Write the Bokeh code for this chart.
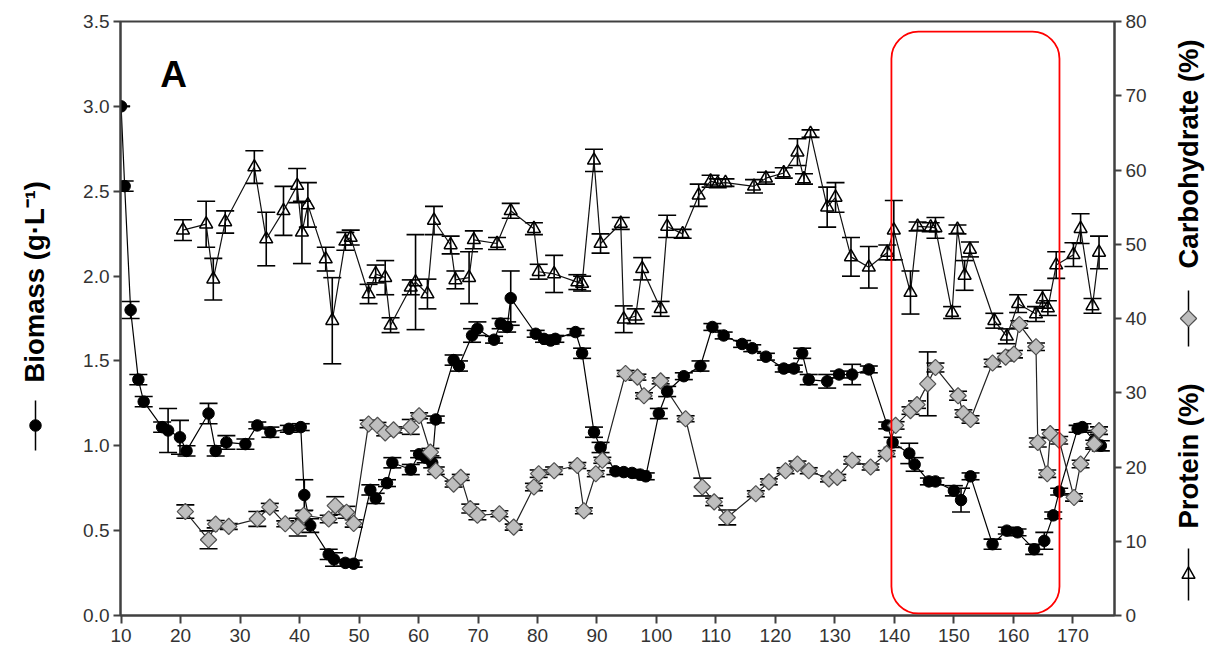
import math
from bokeh.plotting import figure
from bokeh.layouts import row
from bokeh.models import (Range1d, LinearAxis, FixedTicker, PrintfTickFormatter,
                          ColumnDataSource, Whisker, TeeHead, BoxAnnotation, Label)
from bokeh.core.properties import value
from bokeh.embed import file_html
from bokeh.resources import INLINE

# ---- data: culture day vs. biomass (g/L), carbohydrate (%) and protein (%) ----
biomass_day = [10.0, 10.6, 11.6, 12.9, 13.8, 16.9, 17.9, 19.9, 21.0, 24.7, 25.9, 27.7,
               30.9, 32.9, 35.1, 38.2, 40.2, 40.8, 41.8, 44.9, 45.8, 47.7, 49.1, 51.9,
               52.8, 54.7, 55.6, 58.7, 60.1, 61.2, 62.3, 62.9, 65.9, 66.8, 69.0, 69.9,
               72.7, 73.8, 74.9, 75.5, 79.7, 81.1, 82.2, 83.0, 86.4, 87.5, 89.5, 90.6,
               93.1, 94.5, 95.9, 97.3, 98.2, 100.4, 101.8, 104.6, 107.4, 109.4, 111.3,
               114.4, 116.1, 118.4, 121.4, 123.1, 124.5, 125.6, 128.7, 130.7, 132.9,
               135.7, 138.8, 139.7, 142.5, 143.4, 145.8, 146.9, 150.0, 151.2, 152.8,
               156.5, 158.9, 160.7, 163.5, 165.2, 166.7, 167.7, 170.8, 171.6, 173.6, 174.7]
biomass = [3.00, 2.53, 1.80, 1.39, 1.26, 1.11, 1.09, 1.05, 0.97, 1.19, 0.97, 1.02,
           1.01, 1.12, 1.08, 1.10, 1.11, 0.71, 0.53, 0.36, 0.33, 0.31, 0.305, 0.74,
           0.69, 0.78, 0.90, 0.86, 0.95, 0.93, 0.90, 1.155, 1.505, 1.47, 1.65, 1.69,
           1.625, 1.72, 1.70, 1.87, 1.66, 1.63, 1.62, 1.63, 1.67, 1.545, 1.08, 0.99,
           0.85, 0.845, 0.84, 0.83, 0.82, 1.19, 1.32, 1.41, 1.47, 1.70, 1.65,
           1.60, 1.575, 1.525, 1.455, 1.455, 1.545, 1.39, 1.38, 1.42, 1.42,
           1.45, 1.12, 1.02, 0.955, 0.89, 0.79, 0.79, 0.735, 0.68, 0.82,
           0.42, 0.50, 0.49, 0.39, 0.44, 0.59, 0.73, 1.10, 1.11, 1.03, 1.00]
biomass_sd = [0.0, 0.03, 0.05, 0.03, 0.03, 0.03, 0.13, 0.10, 0.03, 0.06, 0.03, 0.04,
              0.03, 0.02, 0.03, 0.02, 0.02, 0.09, 0.04, 0.03, 0.04, 0.02, 0.02, 0.03,
              0.03, 0.02, 0.03, 0.03, 0.02, 0.03, 0.03, 0.02, 0.03, 0.03, 0.04, 0.04,
              0.02, 0.03, 0.03, 0.16, 0.02, 0.02, 0.02, 0.02, 0.02, 0.03, 0.03, 0.03,
              0.02, 0.02, 0.02, 0.02, 0.02, 0.03, 0.03, 0.02, 0.03, 0.02, 0.02,
              0.02, 0.02, 0.02, 0.02, 0.02, 0.03, 0.03, 0.04, 0.02, 0.06,
              0.02, 0.02, 0.03, 0.06, 0.04, 0.02, 0.02, 0.03, 0.07, 0.02,
              0.03, 0.02, 0.02, 0.03, 0.05, 0.02, 0.02, 0.02, 0.02, 0.05, 0.03]

carb_day = [20.8, 24.7, 25.9, 28.1, 32.9, 35.0, 37.6, 39.7, 40.7, 44.9, 46.0, 47.9,
            49.1, 51.6, 53.1, 54.4, 55.8, 58.7, 60.1, 62.0, 62.9, 65.9, 67.1, 68.7,
            69.9, 73.6, 76.0, 79.4, 80.2, 82.8, 86.7, 87.8, 89.8, 90.9, 94.8, 96.8,
            97.9, 100.7, 104.9, 107.7, 109.7, 111.9, 116.7, 118.9, 121.7, 123.7, 125.6,
            129.0, 130.4, 132.9, 136.0, 138.7, 140.2, 142.7, 143.8, 145.6, 146.9, 150.7,
            151.6, 152.8, 156.5, 158.7, 160.1, 161.0, 163.8, 164.1, 165.7, 166.2, 167.7,
            170.2, 171.3, 173.6, 174.4]
carb = [14.0, 10.2, 12.3, 12.0, 13.0, 14.6, 12.35, 11.9, 13.5, 13.0, 14.8, 13.9,
        12.4, 25.8, 25.6, 24.6, 25.0, 25.4, 26.9, 22.0, 19.5, 17.7, 18.6, 14.4,
        13.5, 13.7, 11.9, 17.3, 19.1, 19.5, 20.2, 14.1, 19.1, 20.9, 32.6, 32.1,
        29.6, 31.6, 26.5, 17.3, 15.3, 13.2, 16.4, 18.0, 19.5, 20.4, 19.5,
        18.4, 18.6, 20.9, 20.0, 21.8, 25.6, 27.6, 28.4, 31.2, 33.4, 29.6,
        27.2, 26.4, 34.0, 34.8, 35.2, 39.2, 36.2, 23.3, 19.1, 24.5, 23.6,
        15.9, 20.4, 23.1, 24.9]
carb_sd = [0.9, 1.2, 0.5, 0.4, 1.0, 0.5, 0.4, 1.2, 0.6, 0.5, 1.2, 0.8,
           0.5, 0.5, 0.4, 0.4, 0.4, 1.0, 0.4, 0.5, 0.5, 0.4, 0.4, 0.6,
           0.6, 0.4, 0.4, 0.5, 0.5, 0.5, 0.4, 0.4, 0.4, 0.4, 0.4, 0.4,
           0.4, 0.4, 0.4, 1.2, 0.5, 1.0, 0.4, 0.4, 0.4, 0.4, 0.4,
           0.4, 0.4, 0.5, 0.4, 0.4, 0.5, 0.5, 0.5, 4.3, 0.6, 0.6,
           0.5, 0.5, 0.5, 0.5, 0.5, 0.5, 0.5, 0.6, 0.5, 0.5, 0.5,
           0.5, 0.5, 0.5, 0.5]

protein_day = [20.4, 24.3, 25.5, 27.5, 32.4, 34.4, 37.3, 39.6, 40.4, 41.4, 44.4, 45.5,
               47.7, 48.6, 51.6, 52.8, 54.4, 55.3, 58.7, 59.5, 61.5, 62.6, 65.4, 66.2,
               68.5, 69.3, 73.2, 75.5, 79.4, 80.2, 82.8, 86.7, 87.5, 89.5, 90.6, 94.0,
               94.5, 96.5, 97.6, 100.7, 101.8, 104.4, 107.1, 109.1, 110.3, 111.6, 116.4,
               118.4, 121.4, 123.7, 124.8, 125.9, 128.7, 130.1, 132.7, 135.7, 138.8,
               139.9, 142.7, 143.9, 146.1, 146.9, 149.7, 150.6, 151.8, 152.7, 156.8,
               158.9, 160.8, 163.8, 164.9, 165.8, 167.2, 170.1, 171.3, 173.3, 174.4]
protein = [51.9, 52.7, 45.3, 53.0, 60.4, 50.7, 54.5, 57.9, 51.6, 55.3, 48.0, 39.7,
           50.4, 50.9, 43.3, 46.0, 45.5, 39.1, 44.2, 44.9, 43.3, 53.2, 49.9, 45.2,
           45.5, 50.6, 50.1, 54.5, 52.1, 46.3, 46.0, 44.9, 44.7, 61.3, 50.1, 52.8,
           39.9, 40.3, 46.7, 41.3, 52.4, 51.4, 56.6, 58.5, 58.2, 58.3, 57.8,
           58.9, 59.6, 62.4, 58.8, 64.9, 55.0, 56.3, 48.3, 46.9, 48.9,
           51.9, 43.5, 52.4, 52.3, 52.2, 40.8, 52.0, 45.8, 49.3, 39.7,
           37.6, 42.0, 40.6, 42.6, 41.4, 47.2, 48.6, 52.1, 41.7, 48.9]
protein_sd = [1.4, 3.1, 2.8, 1.5, 2.2, 3.6, 3.3, 2.3, 4.2, 3.0, 1.6, 5.8,
              1.2, 1.0, 1.3, 1.2, 2.3, 1.0, 1.0, 6.4, 2.0, 1.9, 1.2, 1.2,
              3.5, 1.2, 0.8, 1.0, 0.8, 1.0, 2.5, 1.0, 1.0, 1.5, 1.3, 0.8,
              1.8, 1.0, 1.5, 1.0, 1.5, 0.6, 1.5, 0.8, 0.6, 0.5, 0.9,
              0.8, 0.7, 1.8, 0.7, 0.5, 2.7, 2.0, 2.6, 2.8, 1.0,
              4.0, 2.9, 0.6, 0.6, 1.4, 0.8, 0.6, 2.0, 1.0, 1.0,
              1.0, 1.2, 1.0, 1.2, 1.0, 1.8, 1.6, 2.0, 1.0, 2.2]

day_ticks = list(range(10, 171, 10))
biomass_ticks = [0.0, 0.5, 1.0, 1.5, 2.0, 2.5, 3.0, 3.5]
percent_ticks = list(range(0, 81, 10))

FONT = "Liberation Sans"
AXIS_GREY = "#404040"
TICK_TEXT = "#333333"
H = 661
FRAME_TOP, FRAME_BOTTOM = 21, 615          # canvas rows of the plotting frame
LEFT_W, RIGHT_W = 58, 59
MAIN_W = 1219 - LEFT_W - RIGHT_W


def sources(x, y, sd):
    return ColumnDataSource(dict(x=x, y=y,
                                 lo=[a - b for a, b in zip(y, sd)],
                                 hi=[a + b for a, b in zip(y, sd)]))


p = figure(width=MAIN_W, height=H, x_range=Range1d(9.9, 177.0), y_range=Range1d(0.0, 3.5),
           output_backend="svg", toolbar_location=None,
           min_border_left=120 - LEFT_W, min_border_right=1219 - RIGHT_W - 1114,
           min_border_top=FRAME_TOP, min_border_bottom=H - FRAME_BOTTOM)
p.extra_y_ranges = {"pct": Range1d(0, 80)}
p.grid.visible = False
p.background_fill_color = "white"
p.border_fill_color = "white"
p.outline_line_color = AXIS_GREY
p.outline_line_width = 2

p.add_layout(LinearAxis(y_range_name="pct"), "right")

for ax in p.axis:
    ax.axis_line_color = AXIS_GREY
    ax.axis_line_width = 2
    ax.major_tick_line_color = AXIS_GREY
    ax.major_tick_line_width = 2
    ax.major_tick_out = 7
    ax.major_tick_in = 0
    ax.minor_tick_line_color = None
    ax.major_label_text_font = FONT
    ax.major_label_text_font_size = "19px"
    ax.major_label_text_color = TICK_TEXT
    ax.major_label_standoff = 4

p.xaxis[0].ticker = FixedTicker(ticks=day_ticks)
p.xaxis[0].major_tick_out = 8
p.xaxis[0].major_label_standoff = 5
p.yaxis[0].ticker = FixedTicker(ticks=biomass_ticks)
p.yaxis[0].formatter = PrintfTickFormatter(format="%.1f")
p.yaxis[1].ticker = FixedTicker(ticks=percent_ticks)

bio_src = sources(biomass_day, biomass, biomass_sd)
carb_src = sources(carb_day, carb, carb_sd)
prot_src = sources(protein_day, protein, protein_sd)

# connecting lines
p.line("x", "y", source=bio_src, line_color="black", line_width=1.2)
p.line("x", "y", source=carb_src, line_color="#222222", line_width=1.2, y_range_name="pct")
p.line("x", "y", source=prot_src, line_color="#111111", line_width=1.2, y_range_name="pct")

# error bars
for src, rng in ((bio_src, "default"), (carb_src, "pct"), (prot_src, "pct")):
    p.add_layout(Whisker(base="x", lower="lo", upper="hi", source=src, y_range_name=rng,
                         line_color="black", line_width=1.6,
                         lower_head=TeeHead(size=18, line_color="black", line_width=1.6),
                         upper_head=TeeHead(size=18, line_color="black", line_width=1.6)))

# markers
p.scatter("x", "y", source=bio_src, marker="circle", size=11.5,
          fill_color="black", line_color="black")
p.scatter("x", "y", source=carb_src, marker="square", angle=math.pi / 4, size=11.5,
          fill_color="#BEBEBE", line_color="#505050", line_width=1.2, y_range_name="pct")
p.scatter("x", "y", source=prot_src, marker="triangle", size=13,
          fill_alpha=0, line_color="black", line_width=1.5, y_range_name="pct")

# highlighted interval
p.add_layout(BoxAnnotation(left=139.5, right=167.75, bottom=0.012, top=3.44,
                           fill_color=None, line_color="#FF0000", line_alpha=1.0,
                           line_width=1.8, border_radius=27))

# panel letter
p.add_layout(Label(x=16.6, y=3.19, text="A", text_font=FONT, text_font_size="37px",
                   text_font_style="bold", text_color="black",
                   text_align="left", text_baseline="alphabetic"))


def strip(width):
    # side panel whose coordinates are canvas pixels (y measured from the top)
    s = figure(width=width, height=H, title=None,
               x_range=Range1d(0, width), y_range=Range1d(FRAME_BOTTOM, FRAME_TOP),
               output_backend="svg", toolbar_location=None,
               x_axis_location=None, y_axis_location=None,
               min_border=0, min_border_left=0, min_border_right=0,
               min_border_top=FRAME_TOP, min_border_bottom=H - FRAME_BOTTOM,
               outline_line_color=None)
    s.grid.visible = False
    s.background_fill_color = "white"
    s.border_fill_color = "white"
    return s


def title(s, x, y, text):
    s.text(x=[x], y=[y], text=[text], angle=math.pi / 2, text_font=value(FONT),
           text_font_size="27.5px", text_font_style="bold", text_color="black",
           text_align="left", text_baseline="middle")


# left strip: biomass axis title with its series key
left = strip(LEFT_W)
title(left, 34, 382, "Biomass (g·L⁻¹)")
left.line(x=[35, 35], y=[400, 450], line_color="black", line_width=1.5)
left.scatter(x=[35], y=[425], marker="circle", size=11.5, fill_color="black", line_color="black")

# right strip: carbohydrate and protein axis titles with series keys
right = strip(RIGHT_W)
title(right, 28, 268, "Carbohydrate (%)")
title(right, 28, 528, "Protein (%)")
right.line(x=[28, 28], y=[290, 346], line_color="black", line_width=1.5)
right.scatter(x=[28], y=[318], marker="square", angle=math.pi / 4, size=11.5,
              fill_color="#BEBEBE", line_color="#505050", line_width=1.2)
right.line(x=[28, 28], y=[548, 600], line_color="black", line_width=1.5)
right.scatter(x=[28], y=[574], marker="triangle", size=13, fill_alpha=0,
              line_color="black", line_width=1.5)

layout = row(left, p, right, spacing=0)

with open("out.html", "w") as f:
    f.write(file_html(layout, INLINE))
